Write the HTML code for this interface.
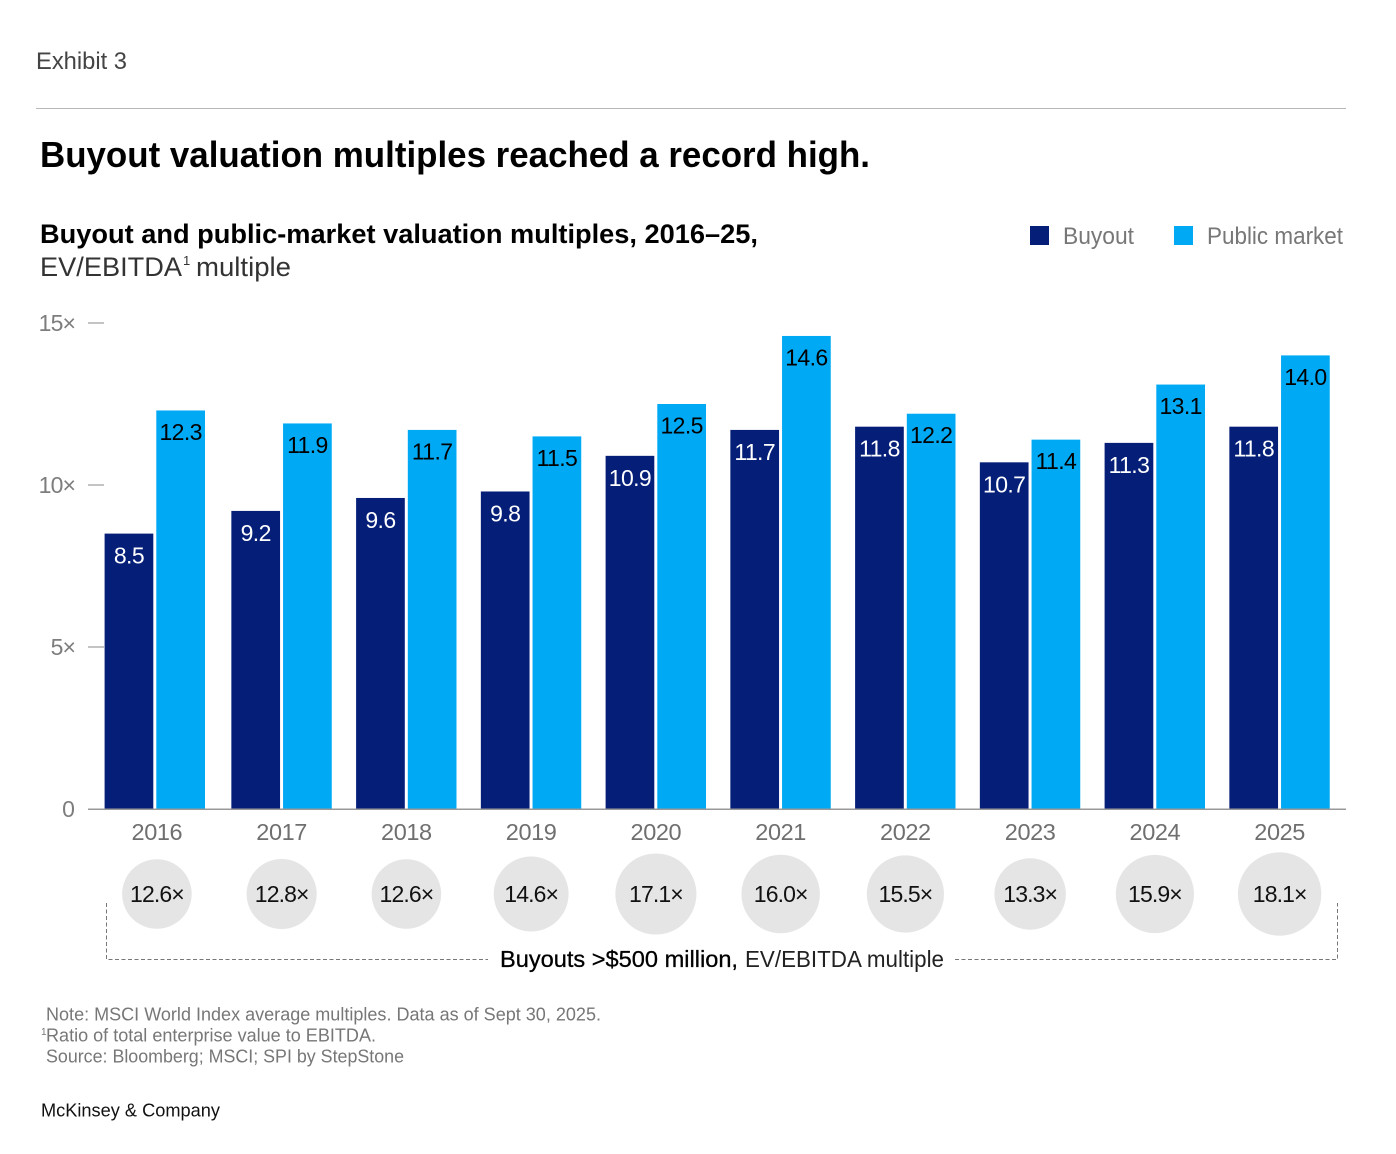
<!DOCTYPE html>
<html lang="en">
<head>
<meta charset="utf-8">
<title>Buyout valuation multiples reached a record high.</title>
<style>
html,body{margin:0;padding:0;background:#fff;}
svg{display:block;font-family:"Liberation Sans",Arial,sans-serif;}
</style>
</head>
<body>
<svg id="chart" xmlns="http://www.w3.org/2000/svg" width="1396" height="1154" viewBox="0 0 1396 1154">
  <rect x="0" y="0" width="1396" height="1154" fill="#fff"/>
  <text x="36" y="69" font-size="24" fill="#444" textLength="91" lengthAdjust="spacingAndGlyphs">Exhibit 3</text>
  <rect x="36" y="108" width="1310" height="1" fill="#b8b8b8"/>
  <text x="40" y="167" font-size="36" font-weight="700" fill="#000" textLength="830" lengthAdjust="spacingAndGlyphs">Buyout valuation multiples reached a record high.</text>
  <text x="40" y="243" font-size="27" font-weight="700" fill="#000" textLength="718" lengthAdjust="spacingAndGlyphs">Buyout and public-market valuation multiples, 2016–25,</text>
  <text x="40" y="276" font-size="27" fill="#333" textLength="142" lengthAdjust="spacingAndGlyphs">EV/EBITDA</text>
  <text x="183" y="265" font-size="13" fill="#333">1</text>
  <text x="196" y="276" font-size="27" fill="#333" textLength="95" lengthAdjust="spacingAndGlyphs">multiple</text>

  <g>
    <rect x="1030" y="226" width="19" height="19" fill="#051f78"/>
    <text x="1063" y="244" font-size="24" fill="#777" textLength="71" lengthAdjust="spacingAndGlyphs">Buyout</text>
    <rect x="1174" y="226" width="19" height="19" fill="#00a9f4"/>
    <text x="1207" y="244" font-size="24" fill="#777" textLength="136" lengthAdjust="spacingAndGlyphs">Public market</text>
  </g>

  <g id="y-axis"></g>
  <g id="bars"></g>
  <rect x="88" y="808.5" width="1258" height="1.5" fill="#999"/>
  <g id="x-axis"></g>
  <g id="bubbles"></g>

  <path d="M106.5 903V959.5H488" fill="none" stroke="#777" stroke-width="1" stroke-dasharray="4 2.5"/>
  <path d="M955 959.5H1337.5V903" fill="none" stroke="#777" stroke-width="1" stroke-dasharray="4 2.5"/>
  <text x="500" y="967" font-size="23.5" fill="#000" stroke="#000" stroke-width="0.3" textLength="238" lengthAdjust="spacingAndGlyphs">Buyouts &gt;$500 million,</text>
  <text x="745" y="967" font-size="23.5" fill="#222" textLength="199" lengthAdjust="spacingAndGlyphs">EV/EBITDA multiple</text>

  <text x="46" y="1020.5" font-size="18.5" fill="#777" textLength="555" lengthAdjust="spacingAndGlyphs">Note: MSCI World Index average multiples. Data as of Sept 30, 2025.</text>
  <text x="41" y="1035" font-size="10" fill="#777">1</text>
  <text x="46" y="1041.5" font-size="18.5" fill="#777" textLength="330" lengthAdjust="spacingAndGlyphs">Ratio of total enterprise value to EBITDA.</text>
  <text x="46" y="1062.5" font-size="18.5" fill="#777" textLength="358" lengthAdjust="spacingAndGlyphs">Source: Bloomberg; MSCI; SPI by StepStone</text>
  <text x="41" y="1116.5" font-size="18.5" fill="#111" textLength="179" lengthAdjust="spacingAndGlyphs">McKinsey &amp; Company</text>
</svg>
<script>
const categories = ['2016','2017','2018','2019','2020','2021','2022','2023','2024','2025'];
const buyoutValues = [8.5,9.2,9.6,9.8,10.9,11.7,11.8,10.7,11.3,11.8];
const publicValues = [12.3,11.9,11.7,11.5,12.5,14.6,12.2,11.4,13.1,14.0];
const bubbleValues = [12.6,12.8,12.6,14.6,17.1,16.0,15.5,13.3,15.9,18.1];
const yTicks = [0,5,10,15];

const NS = 'http://www.w3.org/2000/svg';
const yScale = v => 809 - v * 32.4;
const xScale = i => 156.9 + 124.75 * i;
const barShift = i => (i === 0 ? -2.3 : -0.3);
const bubbleRadius = v => 9.8 * Math.sqrt(v);

function make(tag, parent, attrs, text) {
  const el = document.createElementNS(NS, tag);
  for (const k in attrs) el.setAttribute(k, attrs[k]);
  if (text !== undefined) el.textContent = text;
  parent.appendChild(el);
  return el;
}

const yAxis = document.getElementById('y-axis');
const barsGroup = document.getElementById('bars');
const xAxis = document.getElementById('x-axis');
const bubbles = document.getElementById('bubbles');

yTicks.forEach(t => {
  const label = make('text', yAxis, {x: t === 0 ? 74 : 75, y: yScale(t) + 8, 'font-size': 23, 'letter-spacing': -0.9, fill: '#7d7d7d', 'text-anchor': 'end'}, t === 0 ? '0' : t + '×');
  
  
  if (t > 0) {
    const tick = make('rect', yAxis, {x: 88, y: yScale(t) - 0.5, width: 16, height: 1, fill: '#888'});
    
    
  }
});

categories.forEach((cat, i) => {
  const c = xScale(i) + barShift(i);

  const bx = c - 50, px = c + 1.7, w = 48.7;
  const by = yScale(buyoutValues[i]), py = yScale(publicValues[i]);

  const bBar = make('rect', barsGroup, {x: bx, y: by, width: w, height: 809 - by, fill: '#051f78'});
  
  

  const pBar = make('rect', barsGroup, {x: px, y: py, width: w, height: 809 - py, fill: '#00a9f4'});
  
  

  const bLabel = make('text', barsGroup, {x: bx + w / 2, y: by + 30, 'font-size': 23, 'letter-spacing': -0.6, fill: '#fff', 'text-anchor': 'middle'}, buyoutValues[i].toFixed(1));
  
  

  const pLabel = make('text', barsGroup, {x: px + w / 2, y: py + 29.5, 'font-size': 23, 'letter-spacing': -0.6, fill: '#000', 'text-anchor': 'middle'}, publicValues[i].toFixed(1));
  
  

  const yearLabel = make('text', xAxis, {x: xScale(i), y: 840, 'font-size': 23.5, 'letter-spacing': -0.4, fill: '#6f6f6f', 'text-anchor': 'middle'}, cat);
  
  

  const circle = make('circle', bubbles, {cx: xScale(i), cy: 894, r: bubbleRadius(bubbleValues[i]), fill: '#e5e5e5'});
  
  

  const bubbleText = make('text', bubbles, {x: xScale(i), y: 902, 'font-size': 23, 'letter-spacing': -0.9, fill: '#111', 'text-anchor': 'middle'}, bubbleValues[i].toFixed(1) + '×');
  
  
});
</script>
</body>
</html>
